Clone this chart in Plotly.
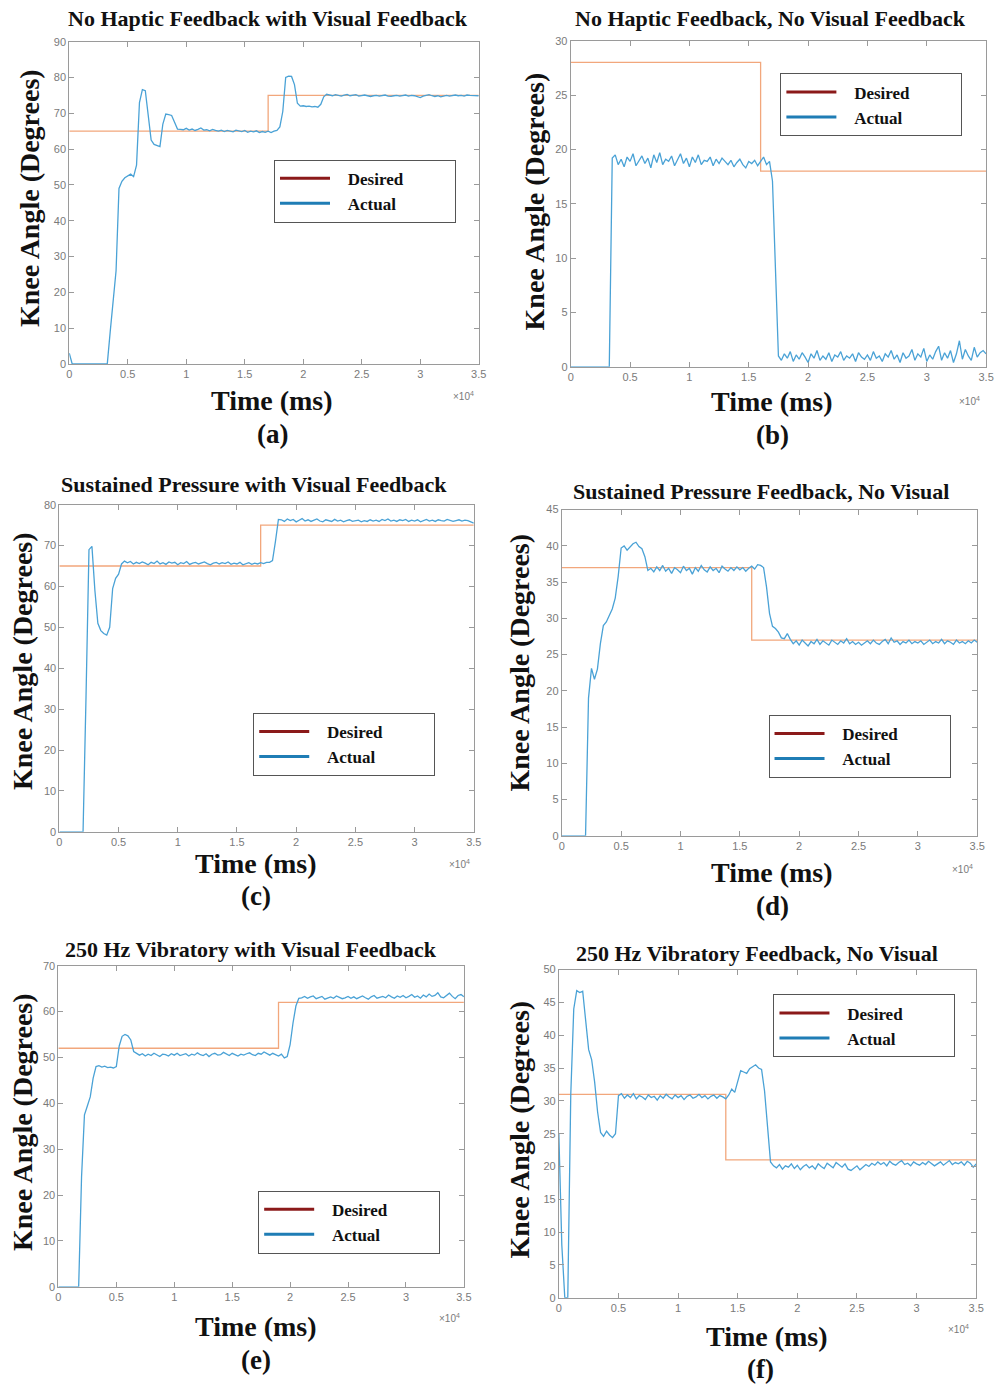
import plotly.graph_objects as go

W, H = 1004, 1392
STEP_MS = 250  # sampling interval of the recorded "actual" traces

# ---------------- data ----------------
titles = ["No Haptic Feedback with Visual Feedback",
          "No Haptic Feedback, No Visual Feedback",
          "Sustained Pressure with Visual Feedback",
          "Sustained Pressure Feedback, No Visual",
          "250 Hz Vibratory with Visual Feedback",
          "250 Hz Vibratory Feedback, No Visual"]
sub_labels = ["(a)", "(b)", "(c)", "(d)", "(e)", "(f)"]
y_max = [90, 30, 80, 45, 70, 50]
y_dtick = [10, 5, 10, 5, 10, 5]
x_tick_vals = [0, 5000, 10000, 15000, 20000, 25000, 30000, 35000]
x_tick_text = ["0", "0.5", "1", "1.5", "2", "2.5", "3", "3.5"]

# desired (step) trajectories
a_des_t = [0, 17000, 35000]; a_des_v = [65, 75, 75]
b_des_t = [0, 16000, 35000]; b_des_v = [28, 18, 18]
c_des_t = [0, 17000, 35000]; c_des_v = [65, 75, 75]
d_des_t = [0, 16000, 35000]; d_des_v = [37, 27, 27]
e_des_t = [0, 19000, 35000]; e_des_v = [52, 62, 62]
f_des_t = [0, 14000, 35000]; f_des_v = [31, 21, 21]

# actual knee angle, one value every STEP_MS ms
a_act = [3, 0, 0, 0, 0, 0, 0, 0, 0, 0, 0, 0, 0, 0,
         9, 17, 26, 49, 51, 52, 52.5, 53, 52.3, 55.5, 73, 76.6, 76.3, 70, 62.5,
         61.3, 61, 60.7, 67, 69.8, 69.6, 69.4, 67.5, 65.6, 65.5,
         65.4, 65.8, 65.3, 65.6, 65.2, 65.5, 65.9, 65.3, 65.4, 65.1,
         65.5, 65.2, 65.0, 65.3, 64.9, 65.2, 65.1, 64.8, 65.3, 65.0,
         64.9, 65.2, 64.7, 65.0, 64.8, 65.1, 64.6, 64.9, 64.7, 65.0,
         64.6, 65.0,
         65.2, 66.2, 70.5, 80, 80.4, 80.3, 78, 72.8, 72, 72.1, 71.9, 72.0, 71.8,
         71.9, 71.7, 72.5, 74.6, 75.3,
         75.1, 74.9, 75.2, 75.0, 74.8, 75.1, 75.3, 74.9, 75.0, 75.2,
         74.8, 75.0, 75.1, 74.9, 74.7, 74.9, 75.0, 74.8, 74.9, 75.1,
         74.8, 74.7, 74.9, 75.0, 74.8, 74.9, 75.1, 74.8, 75.0, 74.9,
         74.6, 74.4, 74.8, 75.0, 75.2, 74.9, 74.7, 74.9, 74.6, 74.8,
         75.0, 74.8, 74.9, 75.1, 74.9, 75.0, 74.8, 75.1, 75.0, 74.9, 75.0, 74.9]

b_act = [0, 0, 0, 0, 0, 0, 0, 0, 0, 0, 0, 0, 0, 0, 19.2,
         19.5, 18.6, 19.1, 18.4, 19.3, 18.9, 19.6, 18.5, 19.0, 19.4,
         18.7, 19.2, 18.3, 19.5, 18.8, 19.7, 18.6, 19.1, 18.9, 19.4,
         18.5, 19.0, 19.6, 18.7, 19.2, 18.4, 19.3, 18.8, 19.5, 18.6,
         19.0, 18.9, 19.3, 18.5, 19.1, 18.7, 19.2, 18.9, 18.6, 19.0,
         18.4, 18.8, 19.1, 18.6, 18.3, 18.9, 18.7, 19.0, 18.5, 18.9,
         19.3, 18.6, 18.9,
         17.1, 9.0, 1.0,
         0.6, 1.2, 0.8, 1.4, 0.5, 1.1, 0.7, 1.3, 0.9, 0.4,
         1.2, 0.8, 1.5, 0.6, 1.0, 0.7, 1.3, 0.5, 1.1, 0.9,
         1.4, 0.6, 1.0, 0.8, 1.2, 0.5, 1.3, 0.9, 0.7, 1.1,
         0.6, 1.4, 0.8, 1.0, 0.5, 1.2, 0.9, 1.5, 0.7, 1.1,
         0.4, 1.3, 0.8, 1.0, 1.6, 0.6, 1.2, 0.9, 1.7, 0.5,
         1.1, 0.7, 1.4, 1.9, 0.6, 1.3, 0.8, 1.5, 0.4, 1.2,
         2.4, 0.7, 1.6, 1.0, 0.6, 1.8, 0.9, 1.3, 1.5, 1.2]

c_act = [0, 0, 0, 0, 0, 0, 0, 0, 0,
         33, 69, 69.8, 59, 51, 49.2, 48.5, 48.1, 50, 59.5, 62, 63, 65.5, 66.2,
         65.8, 66.1, 65.5, 65.9, 65.6, 66.0, 65.7, 65.3, 65.9, 65.6,
         66.2, 65.5, 65.8, 65.4, 66.0, 65.7, 65.9, 65.3, 65.8, 65.6,
         66.1, 65.4, 65.7, 65.9, 65.5, 65.8, 66.0, 65.6, 65.3, 65.7,
         65.9, 65.5, 65.8, 65.6, 66.0, 65.4, 65.7, 65.5, 65.9, 65.3,
         65.6, 65.8, 65.4, 65.7, 65.5, 65.8, 65.6, 65.9,
         65.9, 66.3, 71, 76.4,
         76.3, 75.9, 76.5, 76.1, 76.4, 75.8, 76.2, 76.6, 76.0, 76.3,
         75.9, 76.2, 76.5, 76.0, 75.8, 76.3, 76.1, 75.9, 76.4, 76.0,
         76.2, 75.8, 76.1, 76.3, 75.9, 76.0, 76.2, 75.8, 76.1, 75.9,
         76.3, 76.0, 76.2, 75.9, 76.4, 76.1, 76.5, 76.0, 76.2, 75.9,
         76.3, 76.1, 76.4, 75.9, 76.2, 76.0, 76.3, 75.8, 76.1, 76.4,
         76.0, 76.2, 75.9, 76.3, 76.1, 76.0, 76.4, 76.2, 75.9, 76.1,
         76.3, 76.0, 76.2, 76.1, 75.8, 75.5]

d_act = [0, 0, 0, 0, 0, 0, 0, 0, 0,
         19, 23.1, 21.6, 23, 26.5, 29, 29.5, 30.3, 31.3, 32.8, 35.8, 39.7, 40,
         39.4, 39.8, 40.3, 40.5, 39.9, 39.6, 38.5, 36.6,
         36.9, 36.4, 37.1, 36.6, 37.3, 36.5, 36.9, 36.2, 37.0, 36.7,
         36.3, 37.2, 36.6, 36.9, 36.1, 37.0, 36.5, 37.3, 36.7, 36.4,
         37.1, 36.6, 36.9, 36.3, 37.2, 36.8, 36.5, 37.0, 36.6, 37.1,
         36.7, 37.0, 36.5, 36.9, 37.2, 36.8, 37.4,
         37.3, 37.0, 34.3, 30.7, 28.9, 28.6, 28.1, 27.3, 27.2, 27.9,
         27.1, 26.5, 26.9, 26.3, 27.0, 26.6, 26.2, 26.8, 26.5, 27.1,
         26.4, 26.9, 26.6, 26.3, 27.0, 26.7, 26.4, 26.9, 26.6, 27.2,
         26.5, 26.8, 26.4, 26.7, 26.3, 26.6, 26.9, 26.5, 27.0, 26.6,
         26.4, 26.8, 27.1, 26.5, 27.3, 26.7, 26.9, 26.4, 26.8, 26.6,
         27.0, 26.5, 26.8, 26.6, 26.9, 26.4, 26.7, 27.0, 26.5, 26.8,
         26.6, 27.1, 26.5, 26.9, 26.7, 26.4, 27.0, 26.6, 26.8, 26.5,
         26.9, 26.6, 27.0, 26.7]

e_act = [0, 0, 0, 0, 0, 0, 0, 0,
         24, 37.5, 39.4, 41.4, 45.5, 48, 48.2, 47.9, 48.1, 47.8,
         47.9, 47.7, 48, 52.5, 54.6, 55, 54.7, 53.8, 51.3, 50.8,
         50.5, 50.8, 50.3, 50.7, 50.4, 50.9, 50.5, 50.2, 50.7, 50.6,
         50.3, 50.8, 50.5, 50.9, 50.4, 50.6, 50.8, 50.3, 50.7, 50.5,
         51.0, 50.6, 50.4, 50.8, 50.2, 50.7, 50.9, 50.5, 50.6, 51.1,
         50.8, 50.4, 50.9, 50.6, 50.3, 50.7, 50.5, 50.8, 51.0, 50.6,
         50.4, 50.9, 50.7, 51.2, 50.8, 50.5, 50.9, 50.6, 50.3, 50.7, 49.9,
         50.2, 52.8, 57.5, 61.2, 62.9,
         63.0, 63.3, 62.9, 63.2, 63.4, 62.8, 63.1, 63.3, 62.7, 63.0,
         63.2, 62.9, 63.4, 63.1, 62.8, 63.0, 63.3, 62.9, 63.2, 62.8,
         63.1, 63.4, 63.0, 62.7, 63.2, 63.5, 62.9, 63.1, 63.3, 63.0,
         63.6, 63.2, 62.9, 63.4, 63.1, 63.5, 63.0, 63.3, 63.7, 63.1,
         63.4, 62.9, 63.6, 63.2, 63.8, 63.3, 63.5, 64.1, 63.2, 63.0,
         63.6, 64.0, 63.3, 62.8, 63.5, 63.7, 63.2]

f_act = [25, 8, 0, 0, 31, 44, 46.8, 46.5, 46.7, 42.5, 37.8, 36.3, 32.9, 28.3,
         25.2, 24.6, 25.4, 24.8, 24.4, 25.0, 30.8, 31.1,
         30.4, 30.9, 30.5, 31.1, 30.3, 30.8, 30.6, 30.2, 30.9, 30.5,
         30.7, 30.1, 30.8, 30.4, 31.0, 30.6, 30.3, 30.9, 30.5, 30.8,
         30.2, 30.7, 30.9, 30.4, 30.6, 31.0, 30.5, 30.8, 30.3, 30.7,
         30.9, 30.4, 30.8, 30.6,
         30.3, 30.9, 31.8, 31.3, 33, 34.6, 34.4, 34.2, 34.9, 35.2, 35.5, 35.0,
         34.8, 31.5, 26.4, 20.7, 20.1,
         19.8, 20.3, 19.6, 20.1, 19.9, 20.4, 19.7, 20.2, 19.5, 20.0,
         20.3, 19.8, 20.1, 19.6, 20.4, 20.0, 19.7, 20.5, 20.1, 19.8,
         20.6, 20.2, 19.9, 20.4, 19.6, 19.4, 19.8, 20.1, 19.5, 19.9,
         20.3, 20.0, 20.5, 20.2, 20.7, 20.3, 20.6, 20.1, 20.8, 20.4,
         20.2, 20.6, 20.9, 20.3, 20.5, 20.1, 20.7, 20.4, 20.2, 20.6,
         20.3, 20.8, 20.5, 20.1, 20.4, 20.7, 20.2, 20.5, 20.9, 20.3,
         20.6, 20.4, 20.7, 20.2, 20.8, 20.5, 19.9, 20.4]

desired_t = [a_des_t, b_des_t, c_des_t, d_des_t, e_des_t, f_des_t]
desired_v = [a_des_v, b_des_v, c_des_v, d_des_v, e_des_v, f_des_v]
actual_v = [a_act, b_act, c_act, d_act, e_act, f_act]

# ---------------- layout (pixel boxes of each plot area: left, top, right, bottom) -------------
boxes = [(67, 36, 481, 361), (574, 35, 994, 364), (57, 503, 476, 833),
         (565, 508, 985, 837), (56, 968, 466, 1292), (562, 972, 984, 1303)]
title_pos = [(268, 13), (776, 13), (254, 483), (766, 490), (251, 952), (762, 956)]
ylab_pos = [(27, 194), (537, 197), (20, 661), (522, 662), (20, 1126), (522, 1133)]
xlab_pos = [(272, 398), (778, 399), (256, 865), (778, 874), (256, 1332), (772, 1342)]
sub_pos = [(272, 432), (778, 433), (256, 898), (778, 908), (256, 1366), (766, 1375)]
exp_pos = [(466, 393), (977, 398), (462, 865), (970, 870), (451, 1323), (966, 1335)]
legend_pos = [(274, 155), (786, 68), (253, 713), (774, 715), (258, 1195), (779, 997)]

ACT_COLOR = "#4aa2d6"
DES_COLOR = "#f2a77c"
LEG_DES = "#8b1a1a"
LEG_ACT = "#1f7db5"
SERIF = "Liberation Serif"
SANS = "Liberation Sans"
NB = "\u00a0"

fig = go.Figure()
layout = dict(width=W, height=H, margin=dict(l=0, r=0, t=0, b=0),
              paper_bgcolor="white", plot_bgcolor="white", showlegend=True)
annotations = []

def px(xp):
    return xp / W

def py(yp):
    return 1 - yp / H

for i in range(6):
    n = i + 1
    xa = "x" if n == 1 else f"x{n}"
    ya = "y" if n == 1 else f"y{n}"
    lg = "legend" if n == 1 else f"legend{n}"
    l, t, r, b = boxes[i]
    t_act = [k * STEP_MS for k in range(len(actual_v[i]))]

    fig.add_trace(go.Scatter(x=desired_t[i], y=desired_v[i], mode="lines", line_shape="hv",
                             line=dict(color=DES_COLOR, width=1.3), xaxis=xa, yaxis=ya,
                             showlegend=False, hoverinfo="skip"))
    fig.add_trace(go.Scatter(x=t_act, y=actual_v[i], mode="lines",
                             line=dict(color=ACT_COLOR, width=1.3), xaxis=xa, yaxis=ya,
                             showlegend=False, hoverinfo="skip"))
    # legend entries (MATLAB legend colours differ from the drawn lines)
    fig.add_trace(go.Scatter(x=[None], y=[None], mode="lines", name=f"{NB * 3}<b>Desired</b>{NB * 11}",
                             line=dict(color=LEG_DES, width=3), xaxis=xa, yaxis=ya, legend=lg))
    fig.add_trace(go.Scatter(x=[None], y=[None], mode="lines", name=f"{NB * 3}<b>Actual</b>{NB * 11}",
                             line=dict(color=LEG_ACT, width=3), xaxis=xa, yaxis=ya, legend=lg))

    axis_common = dict(showline=True, linecolor="#9a9a9a", linewidth=1, mirror="ticks",
                       ticks="inside", ticklen=5, tickcolor="#9a9a9a", showgrid=False,
                       zeroline=False, tickfont=dict(family=SANS, size=11, color="#7a7a7a"),
                       fixedrange=True)
    layout["xaxis" if n == 1 else f"xaxis{n}"] = dict(
        axis_common, domain=[px(l), px(r)], range=[0, 35000], anchor=ya,
        tickmode="array", tickvals=x_tick_vals, ticktext=x_tick_text)
    layout["yaxis" if n == 1 else f"yaxis{n}"] = dict(
        axis_common, domain=[py(b), py(t)], range=[0, y_max[i]], anchor=xa,
        tickmode="linear", tick0=0, dtick=y_dtick[i])
    lx, ly = legend_pos[i]
    layout[lg] = dict(x=px(lx), y=py(ly), xanchor="left", yanchor="top",
                      bgcolor="white", bordercolor="#555555", borderwidth=1,
                      font=dict(family=SERIF, size=17, color="#111111"),
                      itemwidth=50, tracegroupgap=0)

    annotations.append(dict(text=f"<b>{titles[i]}</b>", x=px(title_pos[i][0]), y=py(title_pos[i][1]),
                            font=dict(family=SERIF, size=22, color="#111111")))
    annotations.append(dict(text="<b>Knee Angle (Degrees)</b>", x=px(ylab_pos[i][0]), y=py(ylab_pos[i][1]),
                            textangle=-90, font=dict(family=SERIF, size=28, color="#111111")))
    annotations.append(dict(text="<b>Time (ms)</b>", x=px(xlab_pos[i][0]), y=py(xlab_pos[i][1]),
                            font=dict(family=SERIF, size=28, color="#111111")))
    annotations.append(dict(text=f"<b>{sub_labels[i]}</b>", x=px(sub_pos[i][0]), y=py(sub_pos[i][1]),
                            font=dict(family=SERIF, size=27, color="#111111")))
    annotations.append(dict(text="\u00d710<sup>4</sup>", x=px(exp_pos[i][0]), y=py(exp_pos[i][1]),
                            font=dict(family=SANS, size=10, color="#7a7a7a")))

for a in annotations:
    a.update(xref="paper", yref="paper", showarrow=False, xanchor="center", yanchor="middle")
layout["annotations"] = annotations

fig.update_layout(**layout)
fig.write_html("out.html")
